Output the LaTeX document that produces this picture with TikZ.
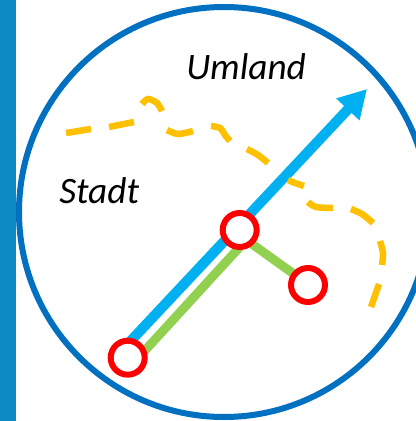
\documentclass[tikz,border=0pt]{standalone}
\usepackage{fontspec}
\setmainfont{Carlito}
\usetikzlibrary{arrows.meta,backgrounds}
\definecolor{barblue}{HTML}{0B8BC2}
\definecolor{ringblue}{HTML}{0070C0}
\definecolor{arrowblue}{HTML}{00B0F0}
\definecolor{linegreen}{HTML}{92D050}
\definecolor{borderyellow}{HTML}{FFC000}
\tikzset{
  stationnode/.style={circle,draw=red,fill=white,line width=4.5pt,minimum size=25.5pt,inner sep=0pt,outer sep=0pt},
  arealabel/.style={anchor=base west,inner sep=0pt,font=\itshape\fontsize{28}{28}\selectfont},
  greenline/.style={linegreen,line width=6.75pt},
  borderline/.style={borderyellow,line width=4.9pt}
}
\begin{document}
\begin{tikzpicture}[x=0.75pt,y=0.75pt,yscale=-1,xscale=1]
\clip (0,0) rectangle (416,421);

% left bar and outer ring
\fill [barblue] (0,0) rectangle (16,421);
\node (ring) [circle,draw=ringblue,line width=4.5pt,minimum size=307.5pt,inner sep=0pt,outer sep=0pt] at (224,212) {};

% stations
\node (southstation) [stationnode] at (127.7,357.7) {};
\node (centerstation) [stationnode] at (239.7,230) {};
\node (sidestation) [stationnode] at (308,285) {};
\coordinate (arrowend) at (367,89);

\begin{scope}[on background layer]
\draw [arrowblue,line width=7.6pt,-{Triangle[length=21pt,width=22.5pt]}] (southstation.80) -- (arrowend);
\draw [greenline] (southstation.20) -- (centerstation.south);
\draw [greenline] (centerstation.-50) -- (sidestation.142);
\end{scope}

% city border
\draw [borderline] (66,133) -- (91,129);
\draw [borderline] (109,127) -- (134,122);
\draw [borderline] plot [smooth] coordinates {(142,104) (148,99) (157,103) (162,111)};
\draw [borderline] plot [smooth] coordinates {(167,130) (178,134) (193,131)};
\draw [borderline] plot [smooth] coordinates {(211,126) (220,128) (225,135) (230,141)};
\draw [borderline] plot [smooth] coordinates {(247,149) (258,155) (268,163)};
\draw [borderline] plot [smooth] coordinates {(288,180) (295,183) (304,186)};
\draw [borderline] plot [smooth] coordinates {(308,202) (316,207) (333,208)};
\draw [borderline] plot [smooth] coordinates {(351,209) (362,214) (373,223)};
\draw [borderline] plot [smooth] coordinates {(380,241) (383,253) (382,265)};
\draw [borderline] (379,284) -- (371,307);

% labels
\node (umland) [arealabel] at (186,79) {Umland};
\node (stadt) [arealabel] at (59,203) {Stadt};
\end{tikzpicture}
\end{document}
